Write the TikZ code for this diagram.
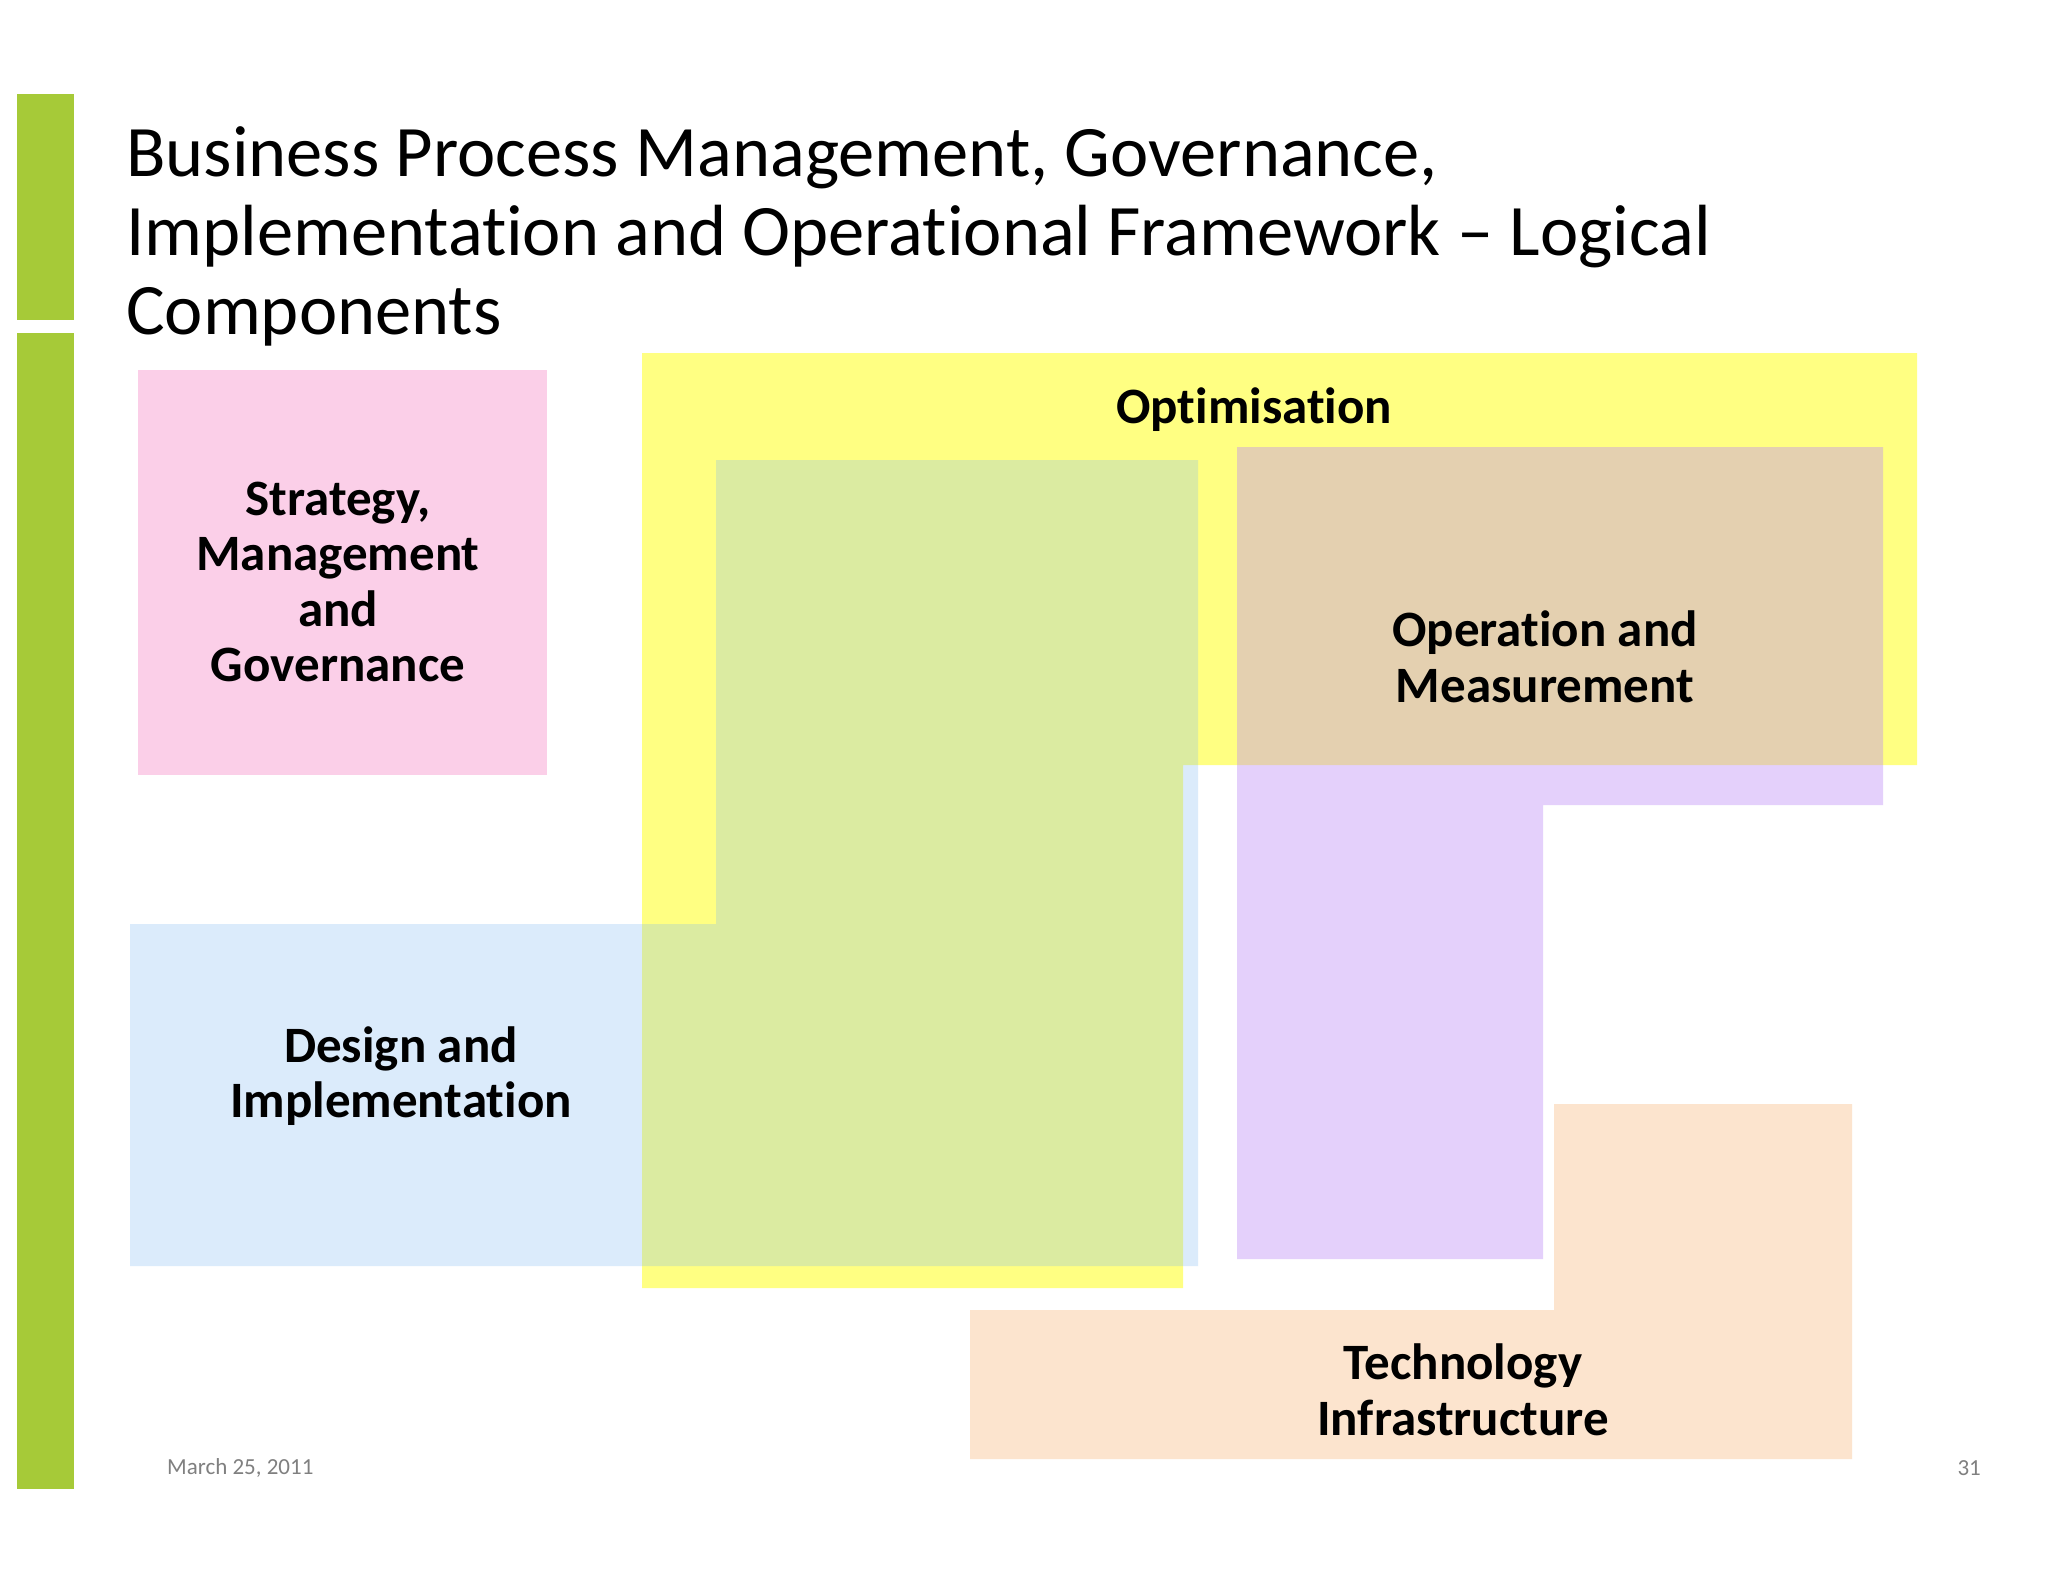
\documentclass[tikz,border=0pt]{standalone}
\usepackage{fontspec}
\setmainfont{Carlito}[Ligatures=NoCommon]
\definecolor{barGreen}{RGB}{166,202,56}
\definecolor{optYellow}{RGB}{255,255,130}
\definecolor{desBlue}{RGB}{128,186,244}
\definecolor{opPurple}{RGB}{188,138,247}
\definecolor{stratPink}{RGB}{251,207,232}
\definecolor{techPeach}{RGB}{252,228,206}
\definecolor{footGray}{RGB}{128,128,128}
\begin{document}
\begin{tikzpicture}[x=1pt,y=-1pt,
  lbl/.style={font=\fontsize{51}{55.5}\selectfont\bfseries, align=center, inner sep=0pt, text=black},
  foot/.style={font=\fontsize{23}{27}\selectfont, text=footGray, inner sep=0pt}]
\fill[white] (0,0) rectangle (2048,1582);
\useasboundingbox (0,0) rectangle (2048,1582);
% side bars
\fill[barGreen] (17,94) rectangle (74,320);
\fill[barGreen] (17,333) rectangle (74,1489);
% title
\node[anchor=north west, inner sep=0pt, align=left, font=\fontsize{72.5}{79}\selectfont] (title) at (126,126)
  {Business Process Management, Governance,\\Implementation and Operational Framework – Logical\\Components};
% strategy
\fill[stratPink] (138,370) rectangle (547,775);
% optimisation (yellow)
\fill[optYellow] (642,353) -- (1917,353) -- (1917,765) -- (1183,765) -- (1183,1288) -- (642,1288) -- cycle;
% design (blue, translucent)
\fill[desBlue, fill opacity=0.28] (716,460) -- (1198,460) -- (1198,1266) -- (130,1266) -- (130,924) -- (716,924) -- cycle;
% operation (purple, translucent)
\fill[opPurple, fill opacity=0.4] (1237,447) -- (1883,447) -- (1883,805) -- (1543,805) -- (1543,1259) -- (1237,1259) -- cycle;
% technology (peach)
\fill[techPeach] (970,1310) -- (1554,1310) -- (1554,1104) -- (1852,1104) -- (1852,1459) -- (970,1459) -- cycle;
% labels
\node[lbl] (opt) at (1254,410) {Optimisation};
\node[lbl] (strat) at (338,582) {Strategy,\\Management\\and\\Governance};
\node[lbl] (oper) at (1545,657) {Operation and\\Measurement};
\node[lbl] (design) at (401,1076) {Design and\\Implementation};
\node[lbl] (tech) at (1463,1390) {Technology\\Infrastructure};
% footer
\node[foot, anchor=west] (date) at (167,1468) {March 25, 2011};
\node[foot, anchor=east] (page) at (1981,1468) {31};
\end{tikzpicture}
\end{document}
